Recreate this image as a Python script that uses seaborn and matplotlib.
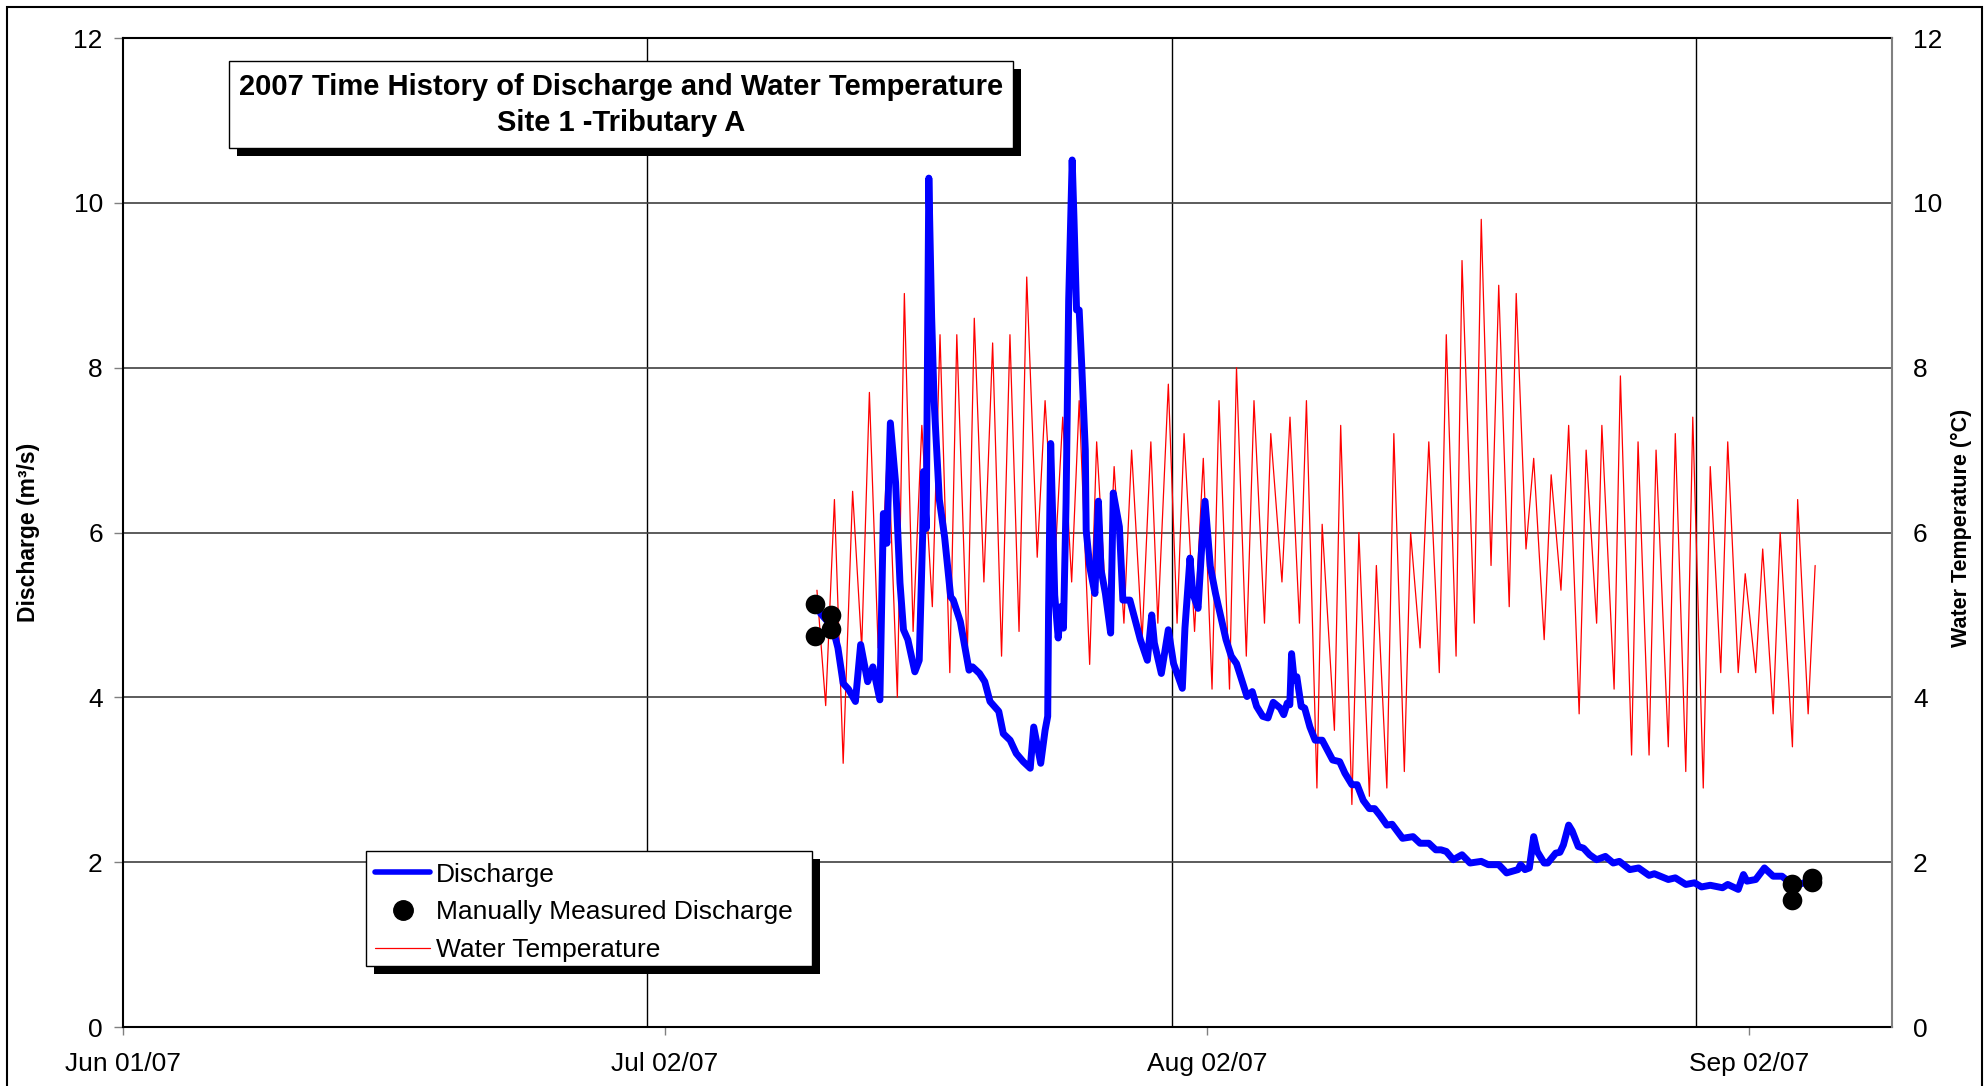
import pandas as pd
import matplotlib
matplotlib.use('Agg')
import matplotlib.pyplot as plt
import matplotlib.dates as mdates
from matplotlib.ticker import FixedLocator
from matplotlib.lines import Line2D
from matplotlib.patches import Rectangle
import seaborn as sns

start = pd.Timestamp('2007-06-01')

# Discharge (m3/s) - time in days since Jun 01/07
q_day = [39.9, 40.6, 40.9, 41.2, 41.5, 41.9, 42.2, 42.6, 42.9, 43.3,
         43.5, 43.7, 43.9, 44.2, 44.45, 44.65, 44.9, 45.3, 45.55, 45.75,
         45.8, 45.95, 46.1, 46.26, 46.4, 46.7, 47.0, 47.35, 47.5, 47.9,
         48.4, 48.6, 49.0, 49.3, 49.6, 50.1, 50.36, 50.75, 51.1, 51.5,
         51.9, 52.1, 52.5, 52.75, 52.9, 52.95, 53.07, 53.2, 53.3, 53.5,
         53.65, 53.8, 53.95, 54.1, 54.3, 54.4, 54.55, 54.7, 54.85, 55.05,
         55.1, 55.3, 55.6, 55.8, 55.95, 56.2, 56.5, 56.65, 57.0, 57.2,
         57.6, 57.8, 58.2, 58.6, 58.85, 59.0, 59.4, 59.8, 60.1, 60.6,
         60.75, 61.04, 61.2, 61.5, 61.7, 61.9, 62.2, 62.5, 62.8, 63.1,
         63.4, 63.7, 64.3, 64.6, 64.85, 65.2, 65.5, 65.8, 66.2, 66.4,
         66.6, 66.75, 66.85, 67.0, 67.15, 67.4, 67.6, 67.9, 68.2, 68.6,
         68.9, 69.2, 69.6, 69.9, 70.3, 70.6, 70.95, 71.3, 71.6, 71.9,
         72.3, 72.6, 72.85, 73.2, 73.8, 74.2, 74.7, 75.1, 75.4, 75.7,
         76.1, 76.6, 77.06, 77.7, 78.1, 78.7, 79.15, 79.8, 79.95, 80.2,
         80.45, 80.7, 80.9, 81.3, 81.5, 81.96, 82.2, 82.4, 82.7, 82.9,
         83.25, 83.55, 83.9, 84.3, 84.8, 85.25, 85.6, 86.2, 86.7, 87.3,
         87.6, 88.4, 88.8, 89.4, 89.9, 90.3, 90.8, 91.5, 91.8, 92.4,
         92.7, 92.9, 93.4, 93.9, 94.4, 94.9, 95.6, 96.3]
q_val = [5.02, 4.85, 4.60, 4.17, 4.10, 3.95, 4.64, 4.19, 4.37, 3.97,
         6.23, 5.87, 7.33, 6.60, 5.39, 4.82, 4.70, 4.31, 4.45, 5.99,
         6.74, 6.05, 10.30, 8.62, 7.60, 6.40, 5.95, 5.22, 5.18, 4.92,
         4.33, 4.37, 4.29, 4.19, 3.95, 3.83, 3.56, 3.48, 3.32, 3.22,
         3.14, 3.64, 3.20, 3.60, 3.77, 5.06, 7.08, 6.07, 5.24, 4.72,
         5.10, 4.84, 6.36, 8.82, 10.52, 9.83, 8.70, 8.70, 8.01, 7.00,
         6.03, 5.59, 5.26, 6.38, 5.55, 5.26, 4.78, 6.48, 6.07, 5.18,
         5.18, 5.02, 4.70, 4.45, 5.00, 4.66, 4.29, 4.82, 4.41, 4.11,
         4.84, 5.69, 5.26, 5.08, 5.79, 6.38, 5.59, 5.26, 4.98, 4.70,
         4.50, 4.41, 4.01, 4.07, 3.89, 3.77, 3.75, 3.94, 3.87, 3.79,
         3.93, 3.91, 4.53, 4.21, 4.25, 3.89, 3.87, 3.64, 3.48, 3.48,
         3.36, 3.24, 3.22, 3.08, 2.94, 2.94, 2.75, 2.65, 2.65, 2.57,
         2.45, 2.46, 2.39, 2.29, 2.31, 2.23, 2.23, 2.15, 2.15, 2.13,
         2.03, 2.09, 1.99, 2.01, 1.97, 1.97, 1.87, 1.91, 1.97, 1.91,
         1.93, 2.31, 2.13, 1.99, 1.99, 2.11, 2.12, 2.21, 2.45, 2.38,
         2.19, 2.17, 2.09, 2.03, 2.07, 1.99, 2.01, 1.91, 1.93, 1.84,
         1.86, 1.79, 1.81, 1.73, 1.75, 1.70, 1.72, 1.69, 1.73, 1.67,
         1.85, 1.77, 1.79, 1.93, 1.83, 1.83, 1.71, 1.76]

# Manually measured discharge
meas_day = [39.6, 39.6, 40.5, 40.5, 95.5, 95.5, 96.6, 96.6]
meas_val = [5.13, 4.74, 5.00, 4.83, 1.73, 1.54, 1.81, 1.76]

# Water temperature (deg C) - daily lows and highs
t_day = [39.7, 40.2, 40.7, 41.2, 41.74, 42.26, 42.7, 43.2, 43.76, 44.3,
         44.7, 45.2, 45.7, 46.3, 46.74, 47.3, 47.7, 48.3, 48.7, 49.25,
         49.75, 50.26, 50.74, 51.26, 51.7, 52.3, 52.75, 53.3, 53.76, 54.27,
         54.7, 55.3, 55.7, 56.3, 56.7, 57.26, 57.7, 58.3, 58.8, 59.2,
         59.8, 60.3, 60.7, 61.3, 61.8, 62.3, 62.7, 63.3, 63.7, 64.26,
         64.7, 65.3, 65.66, 66.3, 66.76, 67.3, 67.7, 68.3, 68.6, 69.3,
         69.66, 70.3, 70.7, 71.3, 71.7, 72.3, 72.7, 73.3, 73.66, 74.2,
         74.7, 75.3, 75.7, 76.26, 76.6, 77.3, 77.7, 78.26, 78.7, 79.3,
         79.7, 80.26, 80.7, 81.3, 81.7, 82.26, 82.7, 83.3, 83.7, 84.3,
         84.6, 85.3, 85.66, 86.3, 86.67, 87.3, 87.7, 88.4, 88.8, 89.4,
         89.8, 90.4, 90.8, 91.4, 91.8, 92.4, 92.8, 93.4, 93.8, 94.4,
         94.8, 95.5, 95.8, 96.4, 96.8]
t_val = [5.3, 3.9, 6.4, 3.2, 6.5, 4.6, 7.7, 4.6, 7.1, 4.0,
         8.9, 4.8, 7.3, 5.1, 8.4, 4.3, 8.4, 4.5, 8.6, 5.4,
         8.3, 4.5, 8.4, 4.8, 9.1, 5.7, 7.6, 5.6, 7.4, 5.4,
         7.6, 4.4, 7.1, 4.9, 6.8, 4.9, 7.0, 4.7, 7.1, 4.9,
         7.8, 4.9, 7.2, 4.8, 6.9, 4.1, 7.6, 4.1, 8.0, 4.5,
         7.6, 4.9, 7.2, 5.4, 7.4, 4.9, 7.6, 2.9, 6.1, 3.6,
         7.3, 2.7, 6.0, 2.8, 5.6, 2.9, 7.2, 3.1, 6.0, 4.6,
         7.1, 4.3, 8.4, 4.5, 9.3, 4.9, 9.8, 5.6, 9.0, 5.1,
         8.9, 5.8, 6.9, 4.7, 6.7, 5.3, 7.3, 3.8, 7.0, 4.9,
         7.3, 4.1, 7.9, 3.3, 7.1, 3.3, 7.0, 3.4, 7.2, 3.1,
         7.4, 2.9, 6.8, 4.3, 7.1, 4.3, 5.5, 4.3, 5.8, 3.8,
         6.0, 3.4, 6.4, 3.8, 5.6]

tick_dates = ['2007-06-01', '2007-07-02', '2007-08-02', '2007-09-02']
grid_dates = ['2007-07-01', '2007-07-31', '2007-08-30']
x_end_day = 101.2
y_ticks = [0, 2, 4, 6, 8, 10, 12]


def to_time(days):
    return start + pd.to_timedelta(days, unit='D')


q_df = pd.DataFrame({'time': to_time(q_day), 'discharge': q_val})
m_df = pd.DataFrame({'time': to_time(meas_day), 'discharge': meas_val})
t_df = pd.DataFrame({'time': to_time(t_day), 'temp': t_val})

sns.set_theme(style='white')
plt.rcParams['font.family'] = ['Liberation Sans', 'DejaVu Sans']
plt.rcParams.update({'text.color': 'black', 'axes.labelcolor': 'black',
                     'xtick.labelcolor': 'black', 'ytick.labelcolor': 'black'})

fig = plt.figure(figsize=(19.86, 10.86), dpi=100)
ax = fig.add_axes([0.0619, 0.0543, 0.8908, 0.9107])
ax2 = ax.twinx()

# temperature behind, discharge on top
sns.lineplot(data=t_df, x='time', y='temp', ax=ax, color='#FF0000', lw=0.9,
             estimator=None, sort=False, legend=False)
sns.lineplot(data=q_df, x='time', y='discharge', ax=ax2, color='#0000FF', lw=5,
             estimator=None, sort=False, legend=False, solid_joinstyle='round')
sns.scatterplot(data=m_df, x='time', y='discharge', ax=ax2, color='black',
                s=200, edgecolor='black', linewidth=0, zorder=5, legend=False)

for a in (ax, ax2):
    a.set_ylim(0, 12)
    a.set_yticks(y_ticks)
    a.set_xlim(start, to_time(x_end_day))

ax.xaxis.set_major_locator(FixedLocator(mdates.date2num(pd.to_datetime(tick_dates))))
ax.xaxis.set_major_formatter(mdates.DateFormatter('%b %d/%y'))
ax.xaxis.set_minor_locator(FixedLocator(mdates.date2num(pd.to_datetime(grid_dates))))

ax.set_axisbelow(True)
ax.yaxis.grid(True, color='#404040', lw=1.2)
ax.xaxis.grid(False, which='major')
ax.xaxis.grid(True, which='minor', color='black', lw=1)

ax.tick_params(axis='x', which='major', direction='out', length=6, width=1,
               color='#808080', labelcolor='black', labelsize=19, pad=12, bottom=True)
ax.tick_params(axis='x', which='minor', length=0)
ax.tick_params(axis='y', direction='out', length=6.5, width=1, color='#808080',
               labelcolor='black', labelsize=19, pad=8, left=True)
ax2.tick_params(axis='y', length=0, labelcolor='black', labelsize=19, pad=15)

for side in ('left', 'bottom', 'top'):
    ax.spines[side].set_color('black')
    ax.spines[side].set_linewidth(1.5)
ax.spines['right'].set_visible(False)
for side in ('left', 'bottom', 'top'):
    ax2.spines[side].set_visible(False)
ax2.spines['right'].set_color('#808080')
ax2.spines['right'].set_linewidth(1.5)

ax.set_xlabel('')
ax.set_ylabel('Discharge (m³/s)', fontsize=16.5, fontweight='bold', color='black')
ax2.set_ylabel('Water Temperature (°C)', fontsize=15.5, fontweight='bold', color='black')
ax.yaxis.set_label_coords(-0.047, 0.5)
ax2.yaxis.set_label_coords(1.033, 0.505)

# title box with shadow
sx, sy = 8 / 1769, 8 / 989
ax2.add_patch(Rectangle((0.0599 + sx, 0.8888 - sy), 0.4432, 0.0879, transform=ax2.transAxes,
                        facecolor='black', edgecolor='none', zorder=10, clip_on=False))
ax2.add_patch(Rectangle((0.0599, 0.8888), 0.4432, 0.0879, transform=ax2.transAxes,
                        facecolor='white', edgecolor='black', lw=1, zorder=11, clip_on=False))
ax2.text(0.2815, 0.9505, '2007 Time History of Discharge and Water Temperature',
         transform=ax2.transAxes, ha='center', va='center', fontsize=21,
         fontweight='bold', color='black', zorder=12)
ax2.text(0.2815, 0.914, 'Site 1 -Tributary A', transform=ax2.transAxes,
         ha='center', va='center', fontsize=21, fontweight='bold', color='black', zorder=12)

# legend box with shadow
ax2.add_patch(Rectangle((0.1374 + sx, 0.0617 - sy), 0.2521, 0.1163, transform=ax2.transAxes,
                        facecolor='black', edgecolor='none', zorder=10, clip_on=False))
ax2.add_patch(Rectangle((0.1374, 0.0617), 0.2521, 0.1163, transform=ax2.transAxes,
                        facecolor='white', edgecolor='black', lw=1, zorder=11, clip_on=False))
handles = [Line2D([], [], color='#0000FF', lw=4),
           Line2D([], [], color='black', marker='o', ls='none', markersize=14),
           Line2D([], [], color='#FF0000', lw=0.9)]
labels = ['Discharge', 'Manually Measured Discharge', 'Water Temperature']
leg = ax2.legend(handles, labels, loc='center left', bbox_to_anchor=(0.1425, 0.1159),
                 bbox_transform=ax2.transAxes, frameon=False, fontsize=19,
                 handlelength=2.1, handletextpad=0.2, labelspacing=0.52,
                 borderpad=0, borderaxespad=0)
for txt in leg.get_texts():
    txt.set_color('black')
leg.set_zorder(12)

# chart area border
fig.patches.append(Rectangle((7 / 1986, -0.01), 1975 / 1986, 1.0036, transform=fig.transFigure,
                             facecolor='none', edgecolor='black', lw=1.5))

fig.savefig('out.png', dpi=100, facecolor='white')
